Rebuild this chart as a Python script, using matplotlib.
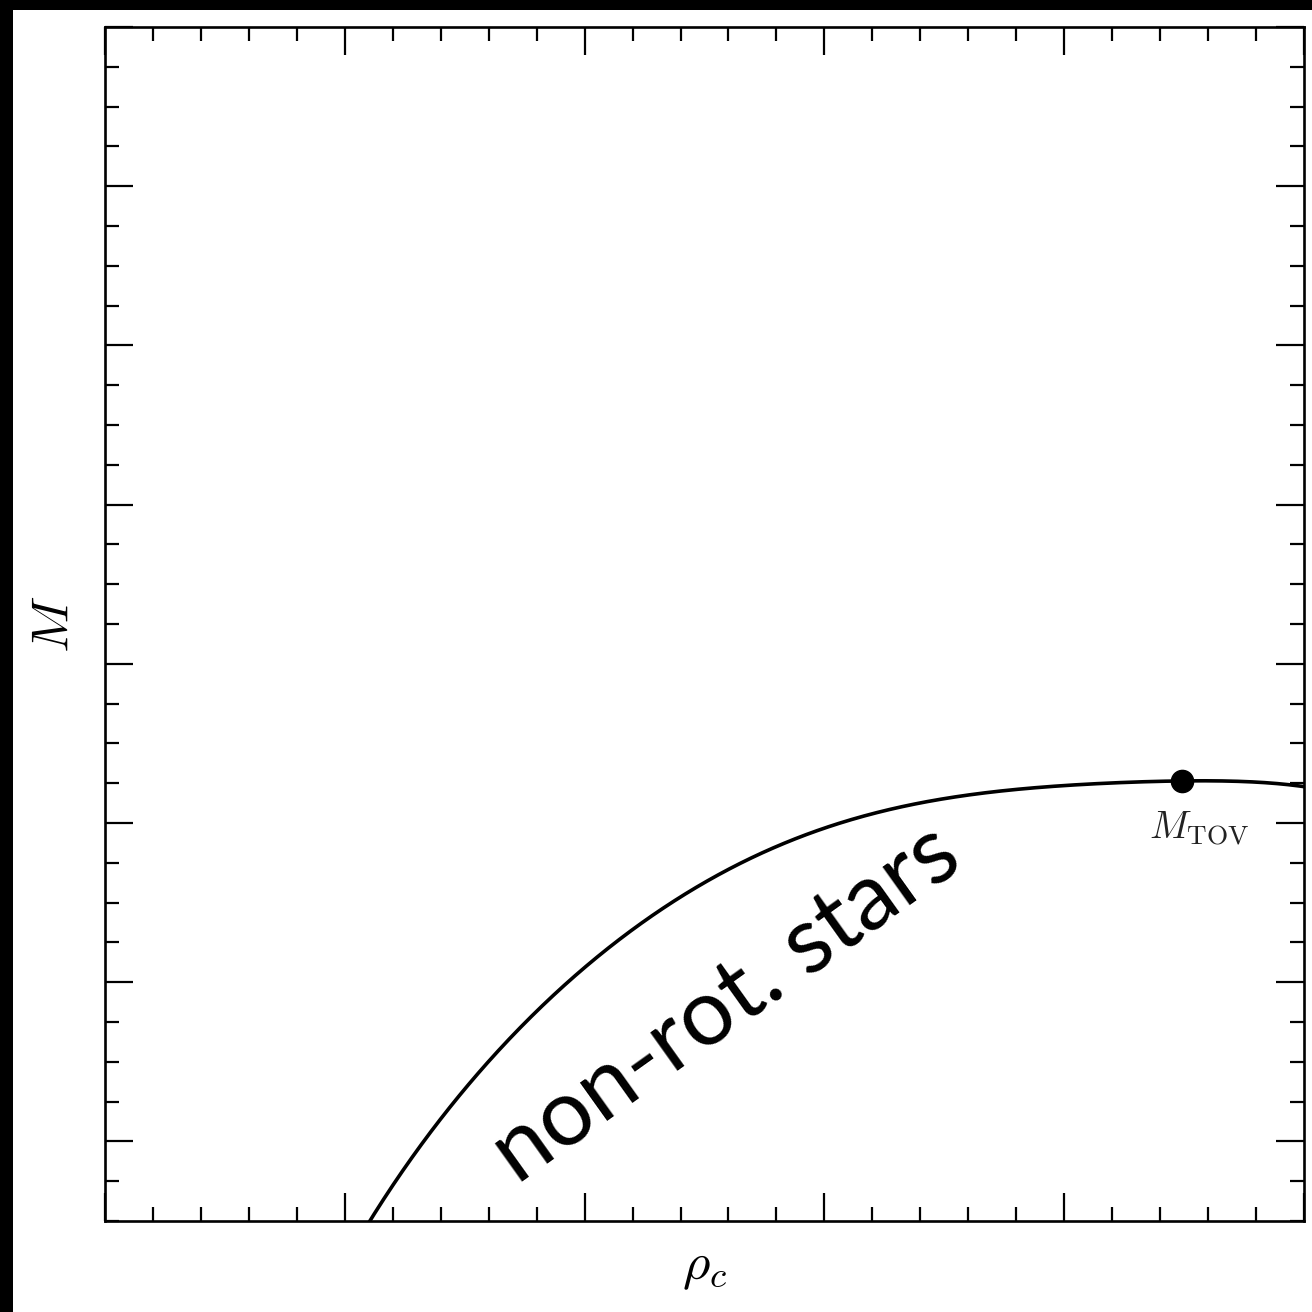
import matplotlib
matplotlib.use("Agg")
import matplotlib.pyplot as plt
from matplotlib.patches import Rectangle
from matplotlib.ticker import MultipleLocator
import numpy as np

plt.rcParams["mathtext.fontset"] = "cm"

# Sequence of non-rotating equilibrium models (arbitrary units)
rho_c = [1.104, 1.258, 1.396, 1.533, 1.675, 1.8125, 1.95, 2.104, 2.3125, 2.521,
         2.729, 2.9375, 3.146, 3.271, 3.479, 3.6875, 3.896, 4.104, 4.3125, 4.492, 4.996]
mass = [-0.5, -0.157, 0.138, 0.402, 0.628, 0.829, 1.005, 1.225, 1.457, 1.646,
        1.815, 1.941, 2.020, 2.078, 2.145, 2.198, 2.230, 2.246, 2.257, 2.261, 2.230]

# Maximum-mass (TOV) model
rho_tov = 4.492
m_tov = 2.261

fig = plt.figure(figsize=(13.12, 13.12), dpi=100)
fig.patches.append(Rectangle((0, 1 - 10 / 1312), 1, 10 / 1312, transform=fig.transFigure,
                             facecolor="black", edgecolor="none", zorder=0))
fig.patches.append(Rectangle((0, 0), 13 / 1312, 1, transform=fig.transFigure,
                             facecolor="black", edgecolor="none", zorder=0))

ax = fig.add_axes([105 / 1312, 1 - 1221 / 1312, 1199 / 1312, 1194 / 1312])

# smooth least-squares curve through the sampled models
coef = np.polyfit(rho_c, mass, 6)
xx = np.linspace(min(rho_c) - 0.02, max(rho_c) + 0.01, 600)
ax.plot(xx, np.polyval(coef, xx), color="black", lw=2.6, solid_capstyle="butt", zorder=3)
ax.plot([rho_tov], [m_tov], "o", color="black", ms=16, zorder=4)
ax.annotate(r"$M_{\rm TOV}$", (rho_tov, m_tov), xytext=(12, -34), textcoords="offset points",
            ha="center", va="center", fontsize=28, color="#222222")

ax.text(2.59, 0.86, "non-rot. stars", family="Lato", fontsize=67, rotation=35.5,
        rotation_mode="anchor", ha="center", va="center", color="black")

ax.set_xlim(0, 5)
ax.set_ylim(-0.5, 7)
ax.xaxis.set_major_locator(MultipleLocator(1))
ax.xaxis.set_minor_locator(MultipleLocator(0.2))
ax.yaxis.set_major_locator(MultipleLocator(1))
ax.yaxis.set_minor_locator(MultipleLocator(0.25))
ax.tick_params(which="both", direction="in", top=True, right=True,
               labelbottom=False, labelleft=False, color="black")
ax.tick_params(which="major", length=20, width=1.6)
ax.tick_params(which="minor", length=10, width=1.6)
for s in ax.spines.values():
    s.set_linewidth(1.9)

ax.set_xlabel(r"$\rho_c$", fontsize=38, labelpad=14)
ax.set_ylabel(r"$M$", fontsize=38, labelpad=18)

fig.savefig("out.png", dpi=100)
